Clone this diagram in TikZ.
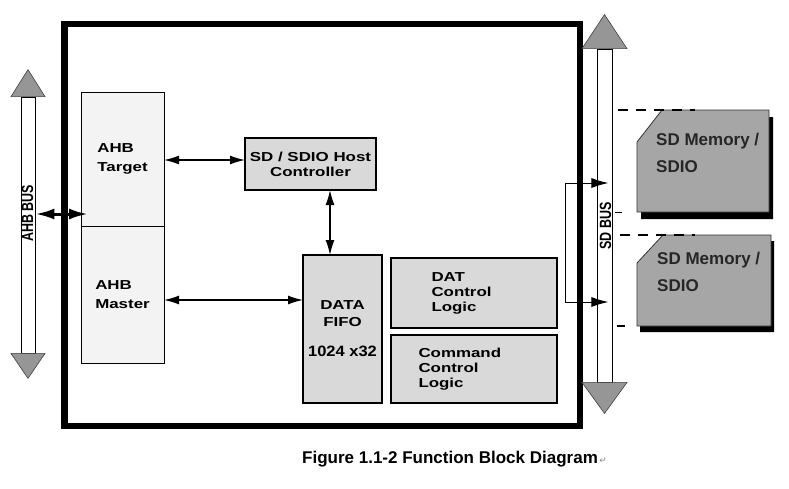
\documentclass[tikz,border=0pt]{standalone}
\usepackage{fontspec}
\setmainfont{Liberation Sans}
\newfontfamily\blockfont[FakeStretch=1.3]{Liberation Sans}
\newfontfamily\numfont[FakeStretch=1.1]{Liberation Sans}
\newfontfamily\symfont{DejaVu Sans}
\usepackage{tikz}
\usetikzlibrary{arrows.meta,positioning,calc}

\definecolor{blockgray}{RGB}{217,217,217}
\definecolor{ahbgray}{RGB}{243,243,243}
\definecolor{headgray}{RGB}{150,150,150}
\definecolor{cardgray}{RGB}{166,166,166}

\begin{document}
\begin{tikzpicture}[
    x=1pt, y=-1pt,
    chipframe/.style={rectangle, draw, line width=6.5pt, anchor=north west, inner sep=0pt},
    ahbbox/.style={rectangle, draw, line width=0.9pt, fill=ahbgray, anchor=north west, align=left, inner sep=0pt, outer sep=0pt, font=\blockfont\bfseries\fontsize{13}{15}\selectfont},
    box/.style={rectangle, draw, line width=1.3pt, fill=blockgray, anchor=north west, align=center, inner sep=0pt, outer sep=0pt, font=\blockfont\bfseries\fontsize{13}{15}\selectfont},
    busshaft/.style={rectangle, draw, line width=0.8pt, inner sep=0pt, minimum width=14pt},
    bushead/.style={fill=headgray, draw=black!75, line width=0.6pt},
    busname/.style={inner sep=0pt, font=\bfseries\fontsize{12.5}{14}\selectfont},
    card/.style={fill=cardgray, draw=black!80, line width=0.8pt},
    cardtext/.style={anchor=west, align=left, inner sep=0pt, text=black!85, font=\bfseries\fontsize{17}{26.5}\selectfont},
    dashline/.style={line width=1.4pt, dash pattern=on 10pt off 8pt},
    blockarrow/.style={{Latex[length=15pt,width=9pt]}-{Latex[length=15pt,width=9pt]}, line width=1.4pt},
    busarrow/.style={{Latex[length=19pt,width=11pt]}-{Latex[length=19pt,width=11pt]}, line width=3pt},
    sdarrow/.style={-{Latex[length=17pt,width=10pt]}, line width=0.9pt},
    caption/.style={inner sep=0pt, font=\bfseries\fontsize{17}{20}\selectfont}
]
\useasboundingbox (0,0) rectangle (789,488);

% chip outline
\node[chipframe, minimum width=515.5pt, minimum height=402pt] (chip) at (61,20.5) {};

% blocks
\node[ahbbox, minimum width=83pt, minimum height=134pt] (target) at (81,92) {AHB\\[4pt]Target};
\node[ahbbox, minimum width=83pt, minimum height=137pt, below=0pt of target] (master) {AHB\\[4pt]Master};
\node[box, minimum width=131pt, minimum height=52pt] (host) at (245,138) {SD / SDIO Host\\Controller};
\node[box, minimum width=79pt, minimum height=148pt] (fifo) at (303,255)
    {DATA\\[2pt]FIFO\\[15pt]{\numfont\bfseries\fontsize{15}{17}\selectfont 1024 x32}};
\node[box, minimum width=166pt, minimum height=70pt, text width=85pt, align=left] (dat) at (391,258) {DAT\\Control\\Logic};
\node[box, minimum width=166pt, minimum height=68pt, text width=111pt, align=left, below=7pt of dat] (cmd) {Command\\Control\\Logic};

% AHB bus
\node[busshaft, minimum height=256pt] (ahbbus) at (28,225) {};
\draw[bushead] ([xshift=-17pt]ahbbus.north) -- ([xshift=17pt]ahbbus.north) -- ([yshift=27pt]ahbbus.north) -- cycle;
\draw[bushead] ([xshift=-17pt]ahbbus.south) -- ([xshift=17pt]ahbbus.south) -- ([yshift=-25pt]ahbbus.south) -- cycle;
\node[busname] (ahblabel) at (27.5,213.5) {\rotatebox{90}{\scalebox{1}[1.3]{AHB BUS}}};

% SD bus
\node[busshaft, minimum width=15pt, minimum height=333pt] (sdbus) at (604.5,215.5) {};
\draw[bushead] ([xshift=-22.5pt]sdbus.north) -- ([xshift=22.5pt]sdbus.north) -- ([yshift=34pt]sdbus.north) -- cycle;
\draw[bushead] ([xshift=-22.5pt]sdbus.south) -- ([xshift=22.5pt]sdbus.south) -- ([yshift=-31pt]sdbus.south) -- cycle;
\node[busname] (sdlabel) at (605.5,226) {\rotatebox{90}{\scalebox{1}[1.3]{SD BUS}}};

% SD cards
\fill[shift={(4,7)}] (662,110) -- (769,110) -- (769,212) -- (637,212) -- (637,142) -- cycle;
\filldraw[card] (662,110) -- (769,110) -- (769,212) -- (637,212) -- (637,142) -- cycle;
\node[cardtext] (card1) at (656,153) {SD Memory /\\SDIO};
\fill[shift={(3,6)}] (663,235) -- (771,235) -- (771,326) -- (637,326) -- (637,263) -- cycle;
\filldraw[card] (663,235) -- (771,235) -- (771,326) -- (637,326) -- (637,263) -- cycle;
\node[cardtext] (card2) at (657,272) {SD Memory /\\SDIO};

\coordinate (c1top) at (695,110);
\coordinate (c1bot) at (637,212.5);
\coordinate (c2top) at (695,235);
\coordinate (c2bot) at (637,326);
\draw[dashline, shorten <=6pt] (sdbus.east |- c1top) -- (c1top);
\draw[dashline, dash pattern=on 7pt off 30pt, shorten <=3pt] (sdbus.east |- c1bot) -- (c1bot);
\draw[dashline, shorten <=8pt] (sdbus.east |- c2top) -- (c2top);
\draw[dashline, dash pattern=on 8pt off 30pt, shorten <=5pt] (sdbus.east |- c2bot) -- (c2bot);

% connections
\coordinate (ahbport) at ([shift={(7pt,12pt)}]target.south west);
\draw[busarrow] (ahbbus.east |- ahbport) -- (ahbport);
\draw[blockarrow] ([yshift=4pt]host.west -| target.east) -- ([yshift=4pt]host.west);
\draw[blockarrow] ([xshift=-12.5pt]fifo.north |- host.south) -- ([xshift=-12.5pt]fifo.north);
\draw[blockarrow] ([yshift=-5.5pt]master.east) -- ([yshift=-5.5pt]master.east -| fifo.west);

\coordinate (sdtap) at (565,183);
\coordinate (sdtap2) at (565,302);
\draw[line width=0.9pt] (sdtap) -- (sdtap2);
\draw[sdarrow] (sdtap) -- ([xshift=-4pt]sdtap -| sdbus.east);
\draw[sdarrow] (sdtap2) -- ([xshift=-4pt]sdtap2 -| sdbus.east);

% caption
\node[caption, anchor=base west] (caption) at (302,463) {Figure 1.1-2 Function Block Diagram};
\node[right=1pt of caption.base east, anchor=base west, inner sep=0pt, text=black!45, font=\symfont\fontsize{9}{10}\selectfont] (retmark) {↵};

\end{tikzpicture}
\end{document}
